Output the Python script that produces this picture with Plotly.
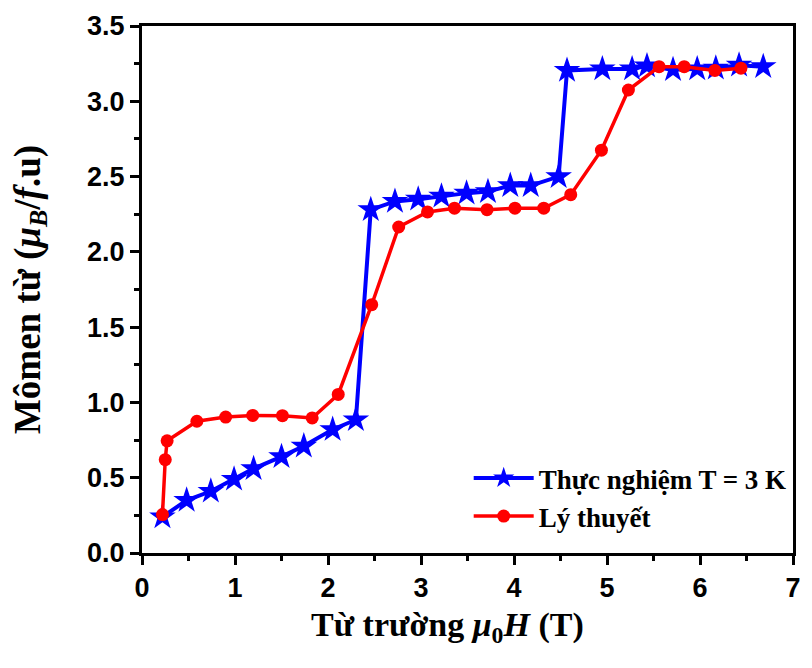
import plotly.graph_objects as go

# Experimental data (blue stars)
exp_h = [0.22, 0.48, 0.74, 0.99, 1.20, 1.50, 1.74, 2.05, 2.30, 2.46, 2.72, 2.97, 3.22,
         3.49, 3.72, 3.96, 4.18, 4.48, 4.57, 4.95, 5.27, 5.43, 5.71, 5.97, 6.17, 6.42, 6.68]
exp_m = [0.24, 0.35, 0.41, 0.49, 0.56, 0.64, 0.71, 0.82, 0.885, 2.28, 2.335, 2.35, 2.37,
         2.39, 2.40, 2.44, 2.44, 2.50, 3.205, 3.215, 3.215, 3.235, 3.21, 3.215, 3.22, 3.24, 3.23]

# Theory (red circles)
th_h = [0.22, 0.25, 0.27, 0.59, 0.90, 1.19, 1.51, 1.83, 2.11, 2.47, 2.76, 3.07, 3.36,
        3.71, 4.01, 4.32, 4.61, 4.94, 5.23, 5.56, 5.83, 6.16, 6.44]
th_m = [0.255, 0.62, 0.745, 0.875, 0.903, 0.914, 0.912, 0.897, 1.053, 1.649, 2.165, 2.265,
        2.29, 2.28, 2.29, 2.29, 2.38, 2.675, 3.075, 3.23, 3.23, 3.205, 3.22]

x_title = "<b>Từ trường <i>μ</i><sub>0</sub><i>H</i> (T)</b>"
y_title = "<b>Mômen từ (<i>μ</i><sub><i>B</i></sub>/<i>f</i>.u)</b>"

fig = go.Figure()
fig.add_trace(go.Scatter(
    x=exp_h, y=exp_m, mode="lines+markers", name="Thực nghiệm T = 3 K",
    line=dict(color="#0000ff", width=4),
    marker=dict(symbol="star", size=20, color="#0000ff", line=dict(width=0)),
))
fig.add_trace(go.Scatter(
    x=th_h, y=th_m, mode="lines+markers", name="Lý thuyết",
    line=dict(color="#ff0000", width=3.5),
    marker=dict(symbol="circle", size=13, color="#ff0000", line=dict(width=0)),
))

axis_common = dict(
    showline=True, linecolor="black", linewidth=3, mirror=True,
    ticks="outside", tickcolor="black", tickwidth=2.5, ticklen=9,
    showgrid=False, zeroline=False,
    tickfont=dict(family="Liberation Sans", size=27, color="black", weight="bold"),
)

fig.update_xaxes(
    range=[0, 7], dtick=1, tick0=0,
    minor=dict(ticks="outside", dtick=0.5, ticklen=5, tickwidth=2.5, tickcolor="black", showgrid=False),
    **axis_common,
)
fig.update_yaxes(
    range=[0, 3.5], dtick=0.5, tick0=0, tickformat=".1f",
    minor=dict(ticks="outside", dtick=0.25, ticklen=5, tickwidth=2.5, tickcolor="black", showgrid=False),
    title=dict(text=y_title,
               font=dict(family="Liberation Serif", size=37, color="black"), standoff=36),
    **axis_common,
)

fig.add_annotation(
    text=x_title, xref="paper", yref="paper", x=0.47, y=-0.14,
    xanchor="center", yanchor="middle", showarrow=False,
    font=dict(family="Liberation Serif", size=34, color="black"),
)

fig.update_layout(
    width=812, height=668,
    margin=dict(l=142, r=11, t=26, b=115),
    plot_bgcolor="white", paper_bgcolor="white",
    legend=dict(
        x=0.998, y=0.188, xanchor="right", yanchor="top",
        font=dict(family="Liberation Serif", size=27, color="black", weight="bold"),
        bgcolor="rgba(0,0,0,0)", tracegroupgap=0, itemwidth=60,
    ),
)

fig.write_html("out.html")
